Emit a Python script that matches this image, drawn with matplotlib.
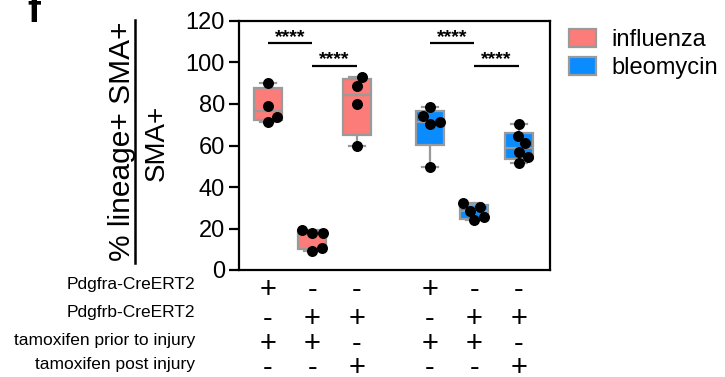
import numpy as np
import matplotlib
matplotlib.use("Agg")
import matplotlib.pyplot as plt
from matplotlib.patches import Patch
import matplotlib.transforms as mtransforms

plt.rcParams['font.family'] = ['Liberation Sans', 'DejaVu Sans']

# ---------------- data ----------------
groups = ["flu_a_prior", "flu_b_prior", "flu_b_post", "bleo_a_prior", "bleo_b_prior", "bleo_b_post"]
injury = ["influenza", "influenza", "influenza", "bleomycin", "bleomycin", "bleomycin"]
values = [
    [90.3, 79.0, 73.9, 71.5],
    [19.3, 17.6, 17.9, 9.2, 10.8],
    [93.2, 88.7, 79.8, 59.9],
    [78.4, 74.4, 70.4, 71.2, 49.8],
    [32.3, 30.5, 28.6, 23.9, 25.5],
    [70.4, 64.6, 61.0, 57.0, 54.3, 51.7],
]
positions = [0, 1, 2, 3.64, 4.64, 5.64]
row_labels = ["Pdgfra-CreERT2", "Pdgfrb-CreERT2", "tamoxifen prior to injury", "tamoxifen post injury"]
row_signs = [
    ["+", "-", "-", "+", "-", "-"],
    ["-", "+", "+", "-", "+", "+"],
    ["+", "+", "-", "+", "+", "-"],
    ["-", "-", "+", "-", "-", "+"],
]
comparisons = [(0, 1, 109.3), (1, 2, 98.5), (3, 4, 109.3), (4, 5, 98.5)]
sig_text = "****"
yticks = [0, 20, 40, 60, 80, 100, 120]
colors = {"influenza": "#FB7C78", "bleomycin": "#0A8CFF"}

# ---------------- figure ----------------
W, H = 725, 377
fig = plt.figure(figsize=(W / 100, H / 100), dpi=100)
ax_l, ax_r, ax_t, ax_b = 239, 550, 21, 270
ax = fig.add_axes([ax_l / W, 1 - ax_b / H, (ax_r - ax_l) / W, (ax_b - ax_t) / H])
ax.set_xlim(-0.65, 6.34)
ax.set_ylim(0, 120)

# box stats (Prism-like quartiles)
stats = []
for v in values:
    a = np.asarray(v)
    q1, med, q3 = np.percentile(a, [25, 50, 75], method="weibull")
    stats.append(dict(med=med, q1=q1, q3=q3, whislo=a.min(), whishi=a.max(), fliers=[]))
gray = "#9a9a9a"
bp = ax.bxp(stats, positions=positions, widths=0.63, patch_artist=True,
            showfliers=False,
            boxprops=dict(edgecolor=gray, linewidth=1.6),
            medianprops=dict(color=gray, linewidth=1.6),
            whiskerprops=dict(color=gray, linewidth=1.6),
            capprops=dict(color=gray, linewidth=1.6),
            capwidths=0.36, manage_ticks=False)
for patch, inj in zip(bp["boxes"], injury):
    patch.set_facecolor(colors[inj])

# swarm placement (in pixel space)
px_x = (ax_r - ax_l) / (6.34 + 0.65)
px_y = (ax_b - ax_t) / 120.0
diam = 11.0
for pos, v in zip(positions, values):
    order = np.argsort(v)
    placed = []
    xs = np.zeros(len(v))
    for i in order:
        y = v[i] * px_y
        best = None
        cands = [0.0]
        for k in np.arange(0.5, 30, 0.5):
            cands += [k, -k]
        for c in cands:
            if all((c - px) ** 2 + (y - py) ** 2 >= (diam * 0.95) ** 2 for px, py in placed):
                best = c
                break
        placed.append((best, y))
        xs[i] = pos + best / px_x
    ax.scatter(xs, v, s=(diam * 0.72) ** 2, color="black", zorder=5, linewidths=0)

# significance bars
for i, j, yv in comparisons:
    ax.plot([positions[i], positions[j]], [yv, yv], color="black", lw=1.6, solid_capstyle="butt")
    ax.text((positions[i] + positions[j]) / 2, yv + 0.6, sig_text, ha="center", va="baseline",
            fontsize=14, fontweight="bold")

# axes styling
for s in ax.spines.values():
    s.set_linewidth(1.6)
ax.set_xticks([])
ax.set_yticks(yticks)
ax.set_yticklabels([str(t) for t in yticks], fontsize=17)
ax.tick_params(axis="y", length=7, width=1.6, pad=3)

# y label as fraction
num_y = (20 + 263) / 2
fig.text(122 / W, 1 - num_y / H, "% lineage+ SMA+", rotation=90, ha="center", va="center", fontsize=21.5)
fig.add_artist(plt.Line2D([135 / W, 135 / W], [1 - 20 / H, 1 - 263 / H], color="black", lw=1.8))
fig.text(157 / W, 1 - 143 / H, "SMA+", rotation=90, ha="center", va="center", fontsize=20)

# panel label
fig.text(27 / W, 1 - 22 / H, "f", fontsize=28, fontweight="bold", ha="left", va="baseline")

# legend
handles = [Patch(facecolor=colors["influenza"], edgecolor=gray, linewidth=1.6, label="influenza"),
           Patch(facecolor=colors["bleomycin"], edgecolor=gray, linewidth=1.6, label="bleomycin")]
fig.legend(handles=handles, loc="upper left", bbox_to_anchor=(564 / W, 1 - 24 / H), frameon=False,
           fontsize=17, handlelength=1.15, handleheight=0.8, handletextpad=0.65, labelspacing=0.25,
           borderpad=0.2, borderaxespad=0)

# condition table
label_y = [285, 313, 340, 365]
sign_y = [290, 319, 344, 368]
trans = mtransforms.blended_transform_factory(ax.transData, fig.transFigure)
for r, (lab, signs) in enumerate(zip(row_labels, row_signs)):
    fig.text(195 / W, 1 - label_y[r] / H, lab, ha="right", va="center", fontsize=12.5)
    for pos, sg in zip(positions, signs):
        ax.text(pos, 1 - sign_y[r] / H, sg, transform=trans, ha="center", va="center",
                fontsize=21, clip_on=False)

fig.savefig("out.png", dpi=100)
